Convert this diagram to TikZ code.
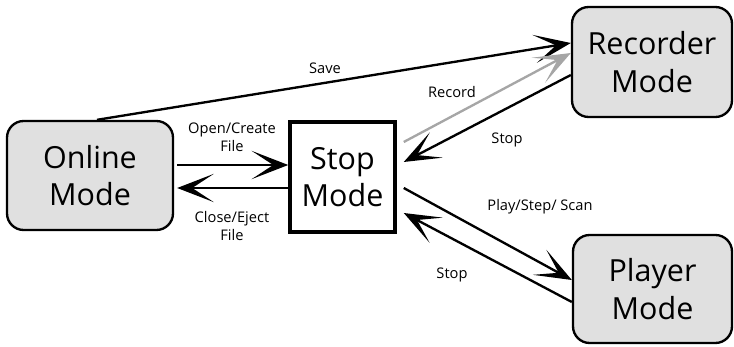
\documentclass[tikz,border=0pt]{standalone}
\usepackage{fontspec}
\setmainfont{Open Sans}
\usepackage{tikz}
\usepackage{xcolor}
\definecolor{mode_gray}{HTML}{E0E0E0}
\definecolor{rec_gray}{HTML}{A6A6A6}
\usetikzlibrary{calc, arrows.meta}

\begin{document}
\begin{tikzpicture}[x=0.03cm,y=-0.03cm,
    mode/.style={draw,line width=2pt,rounded corners=0.5cm,fill=mode_gray,align=center,
        font=\fontsize{26}{32}\selectfont,inner sep=0pt},
    stopbox/.style={draw,line width=3pt,fill=white,align=center,
        font=\fontsize{26}{32}\selectfont,inner sep=0pt},
    conn/.style={line width=2pt,-{Stealth[length=1.1cm,width=0.85cm,inset=0.65cm]}},
    lbl/.style={align=center,font=\fontsize{12.5}{15.5}\selectfont,inner sep=0pt}]
            \useasboundingbox (0,0) rectangle (734,347);
            %状態
            \node[mode,minimum width=4.98cm,minimum height=3.27cm] (online) at (90,175.5) {Online\\Mode};
            \node[stopbox,minimum width=3.15cm,minimum height=3.3cm] (stop) at (342.5,177) {Stop\\Mode};
            \node[mode,minimum width=4.8cm,minimum height=3.3cm] (recorder) at (652,62) {Recorder\\Mode};
            \node[mode,minimum width=4.77cm,minimum height=3.24cm] (player) at (652.5,289) {Player\\Mode};
            %遷移
            \draw[conn] ($(online.north)+(7,0)$)--($(recorder.west)+(0,-19)$);
            \draw[conn,draw=rec_gray,fill=rec_gray] ($(stop.east)+(7,-35)$)--($(recorder.west)+(0,-9)$);
            \draw[conn] ($(recorder.west)+(0,13)$)--($(stop.east)+(7,-15)$);
            \draw[conn] ($(online.east)+(3,-10.5)$)--($(stop.west)+(0,-12)$);
            \draw[conn] ($(stop.west)+(0,11)$)--($(online.east)+(3,12.5)$);
            \draw[conn] ($(stop.east)+(7,11)$)--($(player.west)+(0,-9)$);
            \draw[conn] ($(player.west)+(0,13)$)--($(stop.east)+(7,36)$);
            %ラベル
            \node[lbl] (save) at (325,68) {Save};
            \node[lbl] (record) at (452,92) {Record};
            \node[lbl] (stoprec) at (507,140) {Stop};
            \node[lbl] (open) at (232,137) {Open/Create\\File};
            \node[lbl] (close) at (232,226) {Close/Eject\\File};
            \node[lbl] (play) at (540,207) {Play/Step/ Scan};
            \node[lbl] (stopplay) at (452,275) {Stop};
\end{tikzpicture}
\end{document}
